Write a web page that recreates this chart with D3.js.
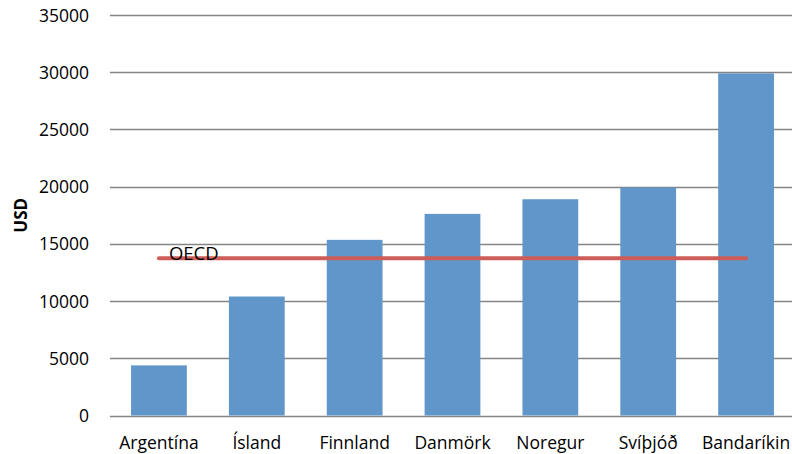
<!DOCTYPE html>
<html><head><meta charset="utf-8">
<script src="https://cdn.jsdelivr.net/npm/d3@7"></script>
<style>html,body{margin:0;padding:0;background:#fff;}svg{display:block;}</style>
</head><body>
<svg id="c" width="792" height="454"></svg>
<script>
const categories = ["Argentína","Ísland","Finnland","Danmörk","Noregur","Svíþjóð","Bandaríkin"];
const values = [4380, 10400, 15350, 17620, 18900, 19920, 29900];
const oecdValue = 13750;
const oecdLabel = "OECD";
const yTicks = [0,5000,10000,15000,20000,25000,30000,35000];
const yTitle = "USD";

(function(){
const svg = d3.select("#c");
const font = "'Open Sans', sans-serif";
const mLeft = 110, mRight = 795, mTop = 15, mBottom = 415.5;

const x = d3.scaleBand().domain(categories).range([mLeft, mRight]).paddingInner(0.43).paddingOuter(0.215);
const y = d3.scaleLinear().domain([0, 35000]).range([mBottom, mTop]);

// gridlines
svg.append("g").selectAll("line").data(yTicks).join("line")
  .attr("x1", mLeft).attr("x2", 792)
  .attr("y1", d => Math.round(y(d)) + 0.5).attr("y2", d => Math.round(y(d)) + 0.5)
  .attr("stroke", "#858585").attr("stroke-width", 1.3);

// y axis labels
const yAxis = d3.axisLeft(y).tickValues(yTicks).tickSize(0).tickPadding(0).tickFormat(d3.format("d"));
const ga = svg.append("g").attr("transform", `translate(89,0)`).call(yAxis);
ga.select(".domain").remove();
ga.selectAll("text").attr("font-family", font).attr("font-size", 17.5).attr("fill", "#000").attr("dy", "0.35em");

// bars
svg.append("g").selectAll("rect").data(values).join("rect")
  .attr("x", (d,i) => x(categories[i]))
  .attr("width", x.bandwidth())
  .attr("y", d => y(d))
  .attr("height", d => y(0) - y(d))
  .attr("fill", "#6096C9");

// x labels
const xAxis = d3.axisBottom(x).tickSize(0).tickPadding(0);
const gx = svg.append("g").attr("transform", `translate(0,${mBottom})`).call(xAxis);
gx.select(".domain").remove();
gx.selectAll("text").attr("font-family", font).attr("font-size", 17.5).attr("fill", "#000")
  .attr("dy", null).attr("y", 33.5);

// OECD line
const cx = c => x(c) + x.bandwidth()/2;
const lineData = categories.map(c => [cx(c), y(oecdValue)]);
svg.append("path").attr("d", d3.line()(lineData))
  .attr("fill", "none").attr("stroke", "#CD5D58").attr("stroke-width", 4).attr("stroke-linecap", "round");

svg.append("text").attr("x", cx(categories[0]) + 10).attr("y", y(oecdValue) + 2)
  .attr("font-family", font).attr("font-size", 18.5).attr("fill", "#000").text(oecdLabel);

// y title
svg.append("text").attr("transform", `translate(27,${(mTop+mBottom)/2}) rotate(-90)`)
  .attr("text-anchor", "middle").attr("font-family", font).attr("font-weight", "bold")
  .attr("font-size", 17).attr("fill", "#000").text(yTitle);
})();
</script>
</body></html>
